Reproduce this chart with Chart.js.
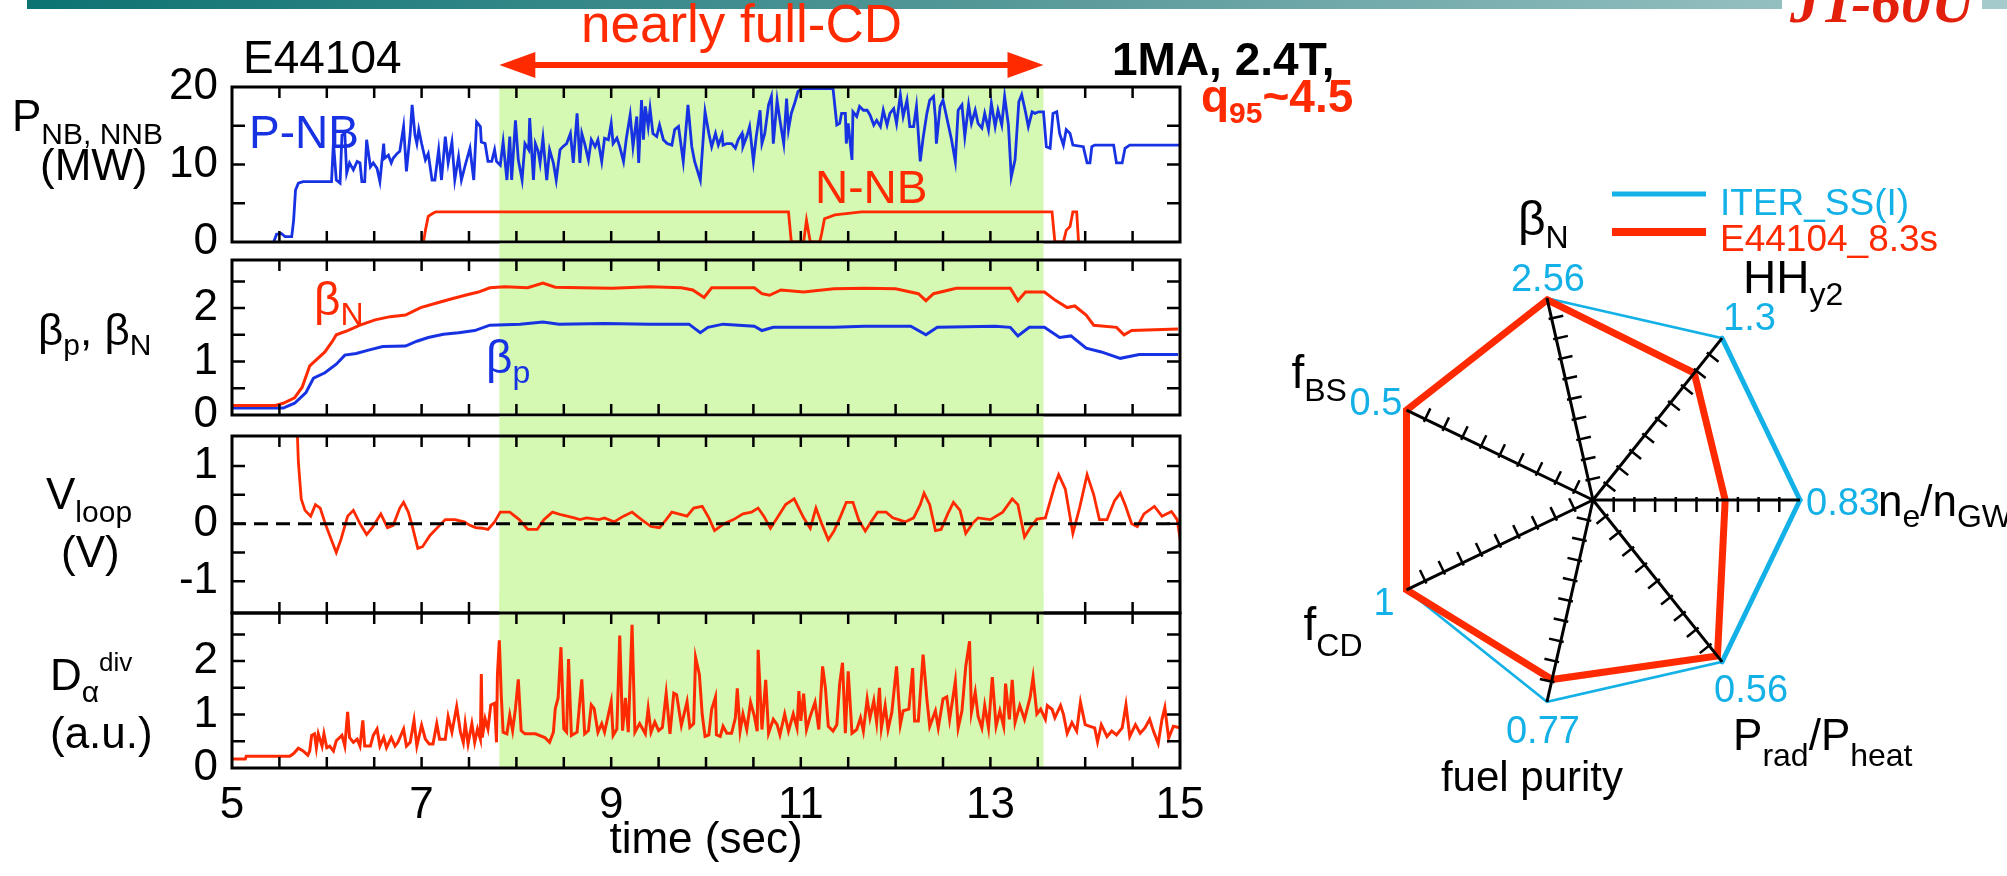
<!DOCTYPE html>
<html>
<head>
<meta charset="utf-8">
<script src="https://cdn.jsdelivr.net/npm/chart.js@4.4.1/dist/chart.umd.min.js"></script>
<style>
  body { margin: 0; width: 2007px; height: 876px; background: #fff; position: relative; overflow: hidden; }
  .topbar { position: absolute; left: 27px; top: 0; width: 1980px; height: 9px;
            background: linear-gradient(to right, #0c7372, #5f9d9e 55%, #a6cbcc); }
  .jt { position: absolute; left: 1782px; top: -28px; padding: 0 8px; background: #fff; color: #e2200c;
        font: italic bold 60px "Liberation Serif", "DejaVu Serif", serif; line-height: 60px; }
  canvas { position: absolute; }
</style>
</head>
<body>
<div class="topbar"></div>
<div class="jt">JT-60U</div>
<canvas id="c1" width="1380" height="275" style="left:0;top:0"></canvas>
<canvas id="c2" width="1380" height="200" style="left:0;top:242px"></canvas>
<canvas id="c3" width="1380" height="225" style="left:0;top:415px"></canvas>
<canvas id="c4" width="1380" height="284" style="left:0;top:592px"></canvas>
<canvas id="c5" width="747" height="776" style="left:1260px;top:100px"></canvas>
<script>
const FONT = '"Liberation Sans", Arial, sans-serif';
const BLUE = '#1632e2', RED = '#ff2a00', GREEN = '#d5f9b3', CYAN = '#14b1e7';

// --- shared time axis ---
const xLabels = [5, 7, 9, 11, 13, 15];
const xMarks = [5.5, 6, 6.5, 7, 7.5, 8, 8.5, 9, 9.5, 10, 10.5, 11, 11.5, 12, 12.5, 13, 13.5, 14, 14.5];
const cdStart = 7.82, cdEnd = 13.56;   // nearly full-CD window (green)

// --- panel 1: P-NB / N-NB (MW) ---
const p1Labels = [0, 10, 20];
const p1Marks = [5, 10, 15];
const pnbT = [5.44,5.47,5.52,5.56,5.63,5.65,5.67,5.70,5.75,6.05,6.07,6.10,6.14,6.16,6.19,6.21,6.24,6.28,6.32,6.35,
  6.37,6.40,6.42,6.46,6.49,6.53,6.56,6.60,6.61,6.65,6.68,6.70,6.74,6.77,6.81,6.84,6.88,6.90,6.93,6.95,
  6.97,7.00,7.04,7.07,7.11,7.14,7.18,7.21,7.25,7.28,7.32,7.35,7.39,7.42,7.46,7.51,7.55,7.58,7.62,7.63,
  7.67,7.70,7.74,7.77,7.79,7.83,7.86,7.90,7.93,7.95,7.99,8.02,8.06,8.09,8.13,8.14,8.18,8.20,8.23,8.25,
  8.28,8.32,8.35,8.39,8.42,8.46,8.49,8.53,8.57,8.60,8.64,8.67,8.69,8.72,8.76,8.79,8.83,8.86,8.90,8.93,
  8.97,9.00,9.02,9.06,9.09,9.13,9.16,9.20,9.23,9.27,9.29,9.32,9.34,9.36,9.39,9.41,9.44,9.48,9.51,9.55,
  9.59,9.64,9.67,9.71,9.76,9.81,9.85,9.88,9.94,
  9.99,10.03,10.06,10.10,10.13,10.17,10.18,10.22,10.27,10.31,10.34,10.38,10.39,10.43,10.46,10.50,10.53,10.57,10.59,10.62,
  10.66,10.69,10.71,10.75,10.78,10.82,10.85,10.87,10.90,10.94,10.97,11.01,11.34,11.38,11.41,11.43,11.47,11.48,11.50,11.54,
  11.55,11.59,11.62,11.66,11.70,11.73,11.77,11.80,11.84,11.87,11.91,11.94,11.98,12.01,12.05,12.08,12.12,12.15,12.19,12.22,
  12.26,12.29,12.33,12.36,12.40,12.42,12.43,12.47,12.50,12.56,12.59,12.63,12.66,12.70,12.73,12.77,12.80,12.84,12.87,12.91,
  12.94,12.98,13.01,13.05,13.08,13.12,13.15,13.19,13.22,13.26,13.30,13.33,13.37,13.40,13.44,13.47,13.51,13.56,13.59,13.63,
  13.66,13.70,13.73,13.77,13.80,13.84,13.87,13.98,14.02,14.05,14.07,14.10,14.30,14.33,14.39,14.42,14.47,15.00];
const pnbV = [0,1.0,1.1,0.7,0.7,2.8,6.7,7.6,7.8,7.8,12.9,8.0,7.6,13.8,14.0,8.9,10.2,9.3,10.4,10.2,
  7.8,7.8,13.2,9.7,10.2,9.5,7.8,12.7,10.8,11.2,10.2,10.8,11.4,11.7,14.9,9.1,14.0,17.7,13.8,12.7,
  14.5,12.7,10.6,11.4,8.0,8.0,11.9,8.0,13.6,10.2,12.9,8.0,11.0,8.0,9.9,12.1,8.0,15.5,14.9,12.9,
  12.7,10.4,10.4,11.9,10.4,9.9,12.9,8.0,13.6,8.0,15.7,10.6,8.0,12.7,11.9,16.0,8.0,12.7,11.7,10.2,
  13.4,8.0,11.9,10.2,8.0,11.9,12.3,12.7,14.0,10.2,16.6,10.2,14.0,12.7,10.6,13.2,12.3,13.2,10.4,13.4,
  13.2,15.3,12.7,13.4,12.3,10.4,13.4,16.4,12.3,16.2,10.2,18.3,13.2,17.5,14.9,17.2,14.0,13.6,15.1,13.2,
  12.7,12.5,14.5,14.9,10.4,17.7,12.3,10.4,8.0,
  16.8,14.0,12.3,14.0,12.5,13.8,12.5,12.7,12.7,12.1,13.2,14.0,12.3,13.6,14.9,10.4,13.6,17.0,12.7,14.0,
  17.7,18.8,12.7,18.3,15.7,12.7,18.5,14.5,16.6,18.1,19.4,19.8,19.8,15.1,15.3,16.6,16.6,12.7,15.3,10.6,
  16.8,16.2,17.5,17.0,17.0,16.4,15.1,15.7,14.9,17.0,15.1,16.6,17.2,15.3,19.0,16.2,18.3,14.9,14.9,17.5,
  10.4,13.4,16.6,18.3,18.8,16.0,12.7,17.5,18.3,14.9,13.2,10.4,17.0,17.7,13.6,17.7,15.3,17.0,15.3,14.7,
  16.6,14.5,17.9,14.9,17.0,15.1,18.8,15.1,8.4,10.6,18.1,19.0,16.8,14.9,16.8,16.6,16.8,16.8,12.3,12.1,
  16.6,16.8,14.0,12.5,14.5,14.0,12.5,12.3,10.2,10.2,12.3,12.5,12.5,10.2,10.2,12.1,12.5,12.5];
const nnbT = [7.02,7.04,7.07,7.12,7.15,10.87,10.90,11.03,11.06,11.10,11.20,11.22,11.25,11.36,11.64,13.65,13.68,13.77,13.80,13.84,13.87,13.91,13.93];
const nnbV = [0,1.5,3.3,3.7,3.9,3.9,0,0,2.8,0,0,1.1,3.0,3.5,3.9,3.9,0,0,1.5,2.0,3.9,3.9,0];

// --- panel 2: beta_p, beta_N ---
const p2Labels = [0, 1, 2];
const p2Marks = [0.5, 1, 1.5, 2, 2.5];
const betaNT = [5.01,5.46,5.54,5.66,5.74,5.82,5.90,5.98,6.06,6.10,6.22,6.35,6.51,6.67,6.83,6.99,7.15,7.31,7.48,7.60,
  7.72,7.88,8.12,8.28,8.41,8.69,9.01,9.41,9.74,9.86,9.98,10.06,10.51,10.59,10.67,10.79,11.03,11.35,11.67,12.00,
  12.24,12.32,12.40,12.64,13.05,13.21,13.29,13.37,13.57,13.69,13.81,13.89,14.01,14.09,14.33,14.41,14.49,14.98];
const betaNV = [0.18,0.18,0.22,0.32,0.52,0.92,1.05,1.18,1.38,1.50,1.58,1.68,1.78,1.84,1.87,2.01,2.09,2.17,2.25,2.30,
  2.38,2.40,2.38,2.47,2.39,2.38,2.37,2.40,2.38,2.34,2.20,2.38,2.38,2.27,2.24,2.34,2.30,2.36,2.37,2.36,
  2.27,2.14,2.27,2.37,2.37,2.37,2.14,2.30,2.30,2.14,2.01,2.04,1.87,1.68,1.64,1.50,1.58,1.61];
const betaPT = [5.01,5.54,5.66,5.78,5.86,5.98,6.10,6.19,6.31,6.43,6.59,6.83,6.95,7.07,7.23,7.39,7.56,7.72,8.04,8.28,
  8.45,8.93,9.41,9.82,9.94,10.02,10.18,10.51,10.59,10.71,11.03,11.35,11.67,12.16,12.32,12.44,13.05,13.21,13.29,13.41,
  13.57,13.73,13.85,14.01,14.17,14.37,14.57,14.98];
const betaPV = [0.13,0.13,0.22,0.42,0.69,0.79,0.95,1.12,1.15,1.21,1.28,1.29,1.38,1.45,1.51,1.54,1.58,1.68,1.70,1.74,
  1.70,1.71,1.70,1.70,1.54,1.64,1.70,1.66,1.58,1.64,1.64,1.64,1.66,1.66,1.50,1.64,1.66,1.64,1.48,1.64,
  1.64,1.45,1.48,1.25,1.18,1.06,1.13,1.13];

// --- panel 3: V_loop (V) ---
const p3Labels = [-1, 0, 1];
const p3Marks = [-1, -0.5, 0, 0.5, 1];
const vloopT = [5.68,5.70,5.73,5.77,5.83,5.88,5.93,5.99,6.06,6.10,6.15,6.22,6.28,6.35,6.42,6.48,6.57,6.64,6.70,6.77,
  6.81,6.86,6.90,6.96,7.01,7.09,7.19,7.25,7.35,7.45,7.51,7.57,7.64,7.70,7.77,7.83,7.93,8.03,8.12,8.22,
  8.29,8.38,8.48,8.61,8.67,8.74,8.87,8.93,9.03,9.13,9.22,9.32,9.42,9.51,9.58,9.64,9.71,9.80,9.87,9.96,
  10.03,10.09,10.19,10.29,10.39,10.48,10.55,10.61,10.68,10.74,10.84,10.93,11.03,11.10,11.16,11.22,11.29,11.35,11.42,11.48,
  11.55,11.61,11.68,11.74,11.81,11.90,11.97,12.03,12.10,12.19,12.26,12.30,12.36,12.42,12.48,12.55,12.61,12.68,12.74,12.81,
  12.87,13.00,13.13,13.23,13.29,13.36,13.42,13.49,13.58,13.68,13.72,13.79,13.87,13.94,14.02,14.09,14.15,14.23,14.31,14.37,
  14.42,14.49,14.55,14.62,14.73,14.81,14.91,14.97,15.02];
const vloopV = [2.0,1.07,0.43,0.23,0.13,0.33,0.27,-0.03,-0.33,-0.50,-0.27,0.13,0.23,0.0,-0.19,-0.07,0.17,-0.07,-0.03,0.27,
  0.37,0.20,-0.03,-0.43,-0.40,-0.20,-0.03,0.07,0.07,0.03,-0.03,-0.07,-0.08,-0.10,0.03,0.20,0.20,0.07,-0.10,-0.10,
  0.07,0.20,0.15,0.10,0.07,0.10,0.07,0.10,0.03,0.13,0.20,0.07,-0.05,-0.07,0.07,0.20,0.17,0.13,0.27,0.30,
  0.10,-0.12,0.0,0.07,0.17,0.20,0.27,0.13,-0.08,0.07,0.33,0.43,0.10,-0.08,0.27,0.0,-0.28,-0.13,0.13,0.37,
  0.37,0.07,-0.13,0.03,0.20,0.20,0.10,0.07,0.03,0.10,0.33,0.53,0.33,-0.12,-0.10,0.17,0.37,0.23,-0.17,0.0,
  0.10,0.07,0.20,0.43,0.33,-0.23,-0.07,0.08,0.10,0.67,0.85,0.60,-0.17,0.27,0.85,0.50,0.07,0.07,0.40,0.53,
  0.33,0.0,-0.05,0.17,0.30,0.13,0.21,0.07,-0.47];

// --- panel 4: D_alpha div (a.u.) ---
const p4Labels = [0, 1, 2];
const p4Marks = [0.5, 1, 1.5, 2, 2.5];
const daT = [5.00,5.14,5.15,5.61,5.65,5.70,5.75,5.80,5.82,5.84,5.87,5.89,5.91,5.95,5.97,6.00,6.03,6.07,6.10,6.16,
  6.19,6.22,6.24,6.28,6.32,6.35,6.38,6.40,6.46,6.49,6.53,6.56,6.60,6.63,6.68,6.72,6.75,6.81,6.84,6.88,
  6.92,6.95,7.00,7.04,7.08,7.12,7.16,7.19,7.25,7.28,7.32,7.37,7.41,7.44,7.46,7.49,7.53,7.56,7.59,7.62,
  7.63,7.64,7.67,7.70,7.73,7.77,7.79,7.80,7.82,7.84,7.86,7.90,7.93,7.96,7.99,8.02,8.05,8.09,8.20,8.30,
  8.35,8.39,8.41,8.44,8.47,8.50,8.53,8.55,8.58,8.64,8.69,8.72,8.76,8.79,8.82,8.86,8.90,8.93,9.00,9.02,
  9.06,9.09,9.12,9.15,9.18,9.22,9.25,9.30,9.36,9.39,9.42,9.46,9.50,9.54,9.58,9.62,9.66,9.69,9.74,9.80,
  9.83,9.87,9.89,9.93,
  9.96,9.99,10.03,10.06,10.10,10.11,10.15,10.18,10.22,10.27,10.31,10.33,10.36,10.39,10.43,10.47,10.51,10.54,10.55,10.59,
  10.63,10.66,10.71,10.75,10.78,10.83,10.87,10.92,10.96,10.98,11.00,11.03,11.06,11.10,11.15,11.19,11.23,11.26,11.29,11.34,
  11.38,11.41,11.44,11.47,11.50,11.54,11.59,11.63,11.66,11.70,11.73,11.77,11.80,11.83,11.85,11.89,11.92,11.96,12.01,12.05,
  12.08,12.14,12.18,12.20,12.24,12.29,12.33,12.36,12.42,12.45,12.50,12.54,12.57,12.63,12.66,12.70,12.74,12.78,12.80,12.84,
  12.87,12.91,12.94,12.98,13.02,13.06,13.10,13.14,13.16,13.20,13.23,13.26,13.31,13.36,13.42,13.45,13.49,13.53,13.58,13.60,
  13.65,13.68,13.74,13.77,13.81,13.86,13.91,13.95,14.00,14.05,14.10,14.13,14.17,14.23,14.28,14.33,14.39,14.43,14.47,14.53,
  14.58,14.63,14.68,14.72,14.77,14.81,14.84,14.88,14.93,15.00];
const daV = [0.17,0.17,0.22,0.22,0.27,0.37,0.32,0.24,0.32,0.61,0.64,0.38,0.64,0.41,0.64,0.38,0.41,0.32,0.51,0.61,
  0.41,1.05,0.57,0.48,0.54,0.41,0.89,0.41,0.41,0.61,0.73,0.41,0.57,0.38,0.57,0.41,0.48,0.73,0.41,0.48,
  0.89,0.41,0.80,0.54,0.45,0.45,0.83,0.54,0.54,0.96,0.67,1.15,0.67,0.48,0.83,0.45,0.83,0.48,0.73,0.54,
  1.76,0.57,0.92,0.73,1.18,1.21,0.48,1.75,2.39,1.37,0.67,0.64,0.99,0.70,1.11,1.66,0.70,0.64,0.64,0.57,
  0.48,0.67,1.11,1.31,2.26,0.73,0.67,2.04,0.61,0.67,1.66,0.64,0.70,1.18,1.11,0.67,0.83,0.67,1.24,0.61,
  0.73,2.48,0.70,1.31,0.67,2.68,0.67,0.83,0.64,1.11,0.67,0.86,0.70,0.76,1.40,0.64,1.40,1.37,0.80,1.24,
  0.76,0.83,2.07,1.75,
  1.00,0.59,0.62,1.10,1.33,0.62,0.59,0.78,0.65,0.65,0.94,1.49,0.69,1.01,0.72,1.23,0.97,0.69,2.21,0.72,
  1.65,0.65,0.91,0.81,0.62,1.01,0.69,1.01,0.75,1.44,0.88,1.39,0.72,0.97,1.23,0.72,1.90,1.49,0.78,0.69,
  0.81,1.58,1.97,0.65,1.81,0.65,0.72,0.94,0.69,1.29,0.94,1.26,0.85,1.50,0.75,1.17,0.72,1.04,1.90,0.81,
  1.07,1.10,1.87,0.88,0.88,2.12,1.29,0.78,1.07,0.75,1.29,1.33,0.91,1.62,0.75,1.07,1.90,2.37,1.04,1.42,
  0.97,0.75,1.17,0.75,1.70,0.78,1.07,0.78,1.58,0.91,1.65,0.85,1.17,0.91,1.33,1.70,1.01,1.10,0.91,1.17,
  1.10,0.94,1.17,1.01,0.65,0.85,0.69,1.23,0.81,0.78,0.75,0.49,0.81,0.59,0.69,0.62,0.75,1.18,0.59,0.81,
  0.65,0.75,0.91,0.69,0.46,0.91,1.13,0.56,0.78,0.75];

// --- radar: ITER_SS(I) vs E44104 at 8.3 s ---
const radarAxes = ['βN', 'HHy2', 'ne/nGW', 'Prad/Pheat', 'fuel purity', 'fCD', 'fBS'];
const iterVals = [2.56, 1.3, 0.83, 0.56, 0.77, 1, 0.5];
const shotVals = [2.54, 1.02, 0.53, 0.54, 0.685, 1, 0.5];
const spokeMarks = [0.1, 0.2, 0.3, 0.4, 0.5, 0.6, 0.7, 0.8, 0.9];

const pts = (t, v) => t.map((x, i) => ({ x, y: v[i] }));

// text with sub/superscripts: parts = [text, size, dy, bold]
function rich(ctx, x, y, parts, color) {
  ctx.save();
  ctx.fillStyle = color;
  ctx.textAlign = 'left';
  ctx.textBaseline = 'alphabetic';
  parts.forEach(p => {
    ctx.font = (p[3] ? 'bold ' : '') + p[1] + 'px ' + FONT;
    ctx.fillText(p[0], x, y + (p[2] || 0));
    x += ctx.measureText(p[0]).width;
  });
  ctx.restore();
}

// texts for each panel, in page coordinates
const panelText = {
  c1(ctx, chart) {
    rich(ctx, 243, 73, [['E44104', 46]], '#000');
    rich(ctx, 581, 42, [['nearly full-CD', 53]], RED);
    rich(ctx, 1112, 75, [['1MA, 2.4T,', 46, 0, true]], '#000');
    rich(ctx, 1201, 112, [['q', 46, 0, true], ['95', 30, 11, true], ['~4.5', 46, 0, true]], RED);
    rich(ctx, 12, 131, [['P', 44], ['NB, NNB', 30, 13]], '#000');
    rich(ctx, 40, 180, [['(MW)', 44]], '#000');
    rich(ctx, 249, 148, [['P-NB', 46]], BLUE);
    rich(ctx, 815, 203, [['N-NB', 46]], RED);
    // double arrow over the CD window
    const x = chart.scales.x, a = x.getPixelForValue(cdStart), b = x.getPixelForValue(cdEnd), y = 65;
    ctx.save();
    ctx.strokeStyle = RED; ctx.fillStyle = RED; ctx.lineWidth = 6;
    ctx.beginPath(); ctx.moveTo(a + 30, y); ctx.lineTo(b - 30, y); ctx.stroke();
    [[a, 1], [b, -1]].forEach(([tip, d]) => {
      ctx.beginPath(); ctx.moveTo(tip, y); ctx.lineTo(tip + d * 36, y - 13); ctx.lineTo(tip + d * 36, y + 13);
      ctx.closePath(); ctx.fill();
    });
    ctx.restore();
  },
  c2(ctx) {
    rich(ctx, 38, 345, [['β', 44], ['p', 30, 10], [', β', 44], ['N', 30, 10]], '#000');
    rich(ctx, 314, 315, [['β', 46], ['N', 32, 10]], RED);
    rich(ctx, 486, 373, [['β', 46], ['p', 32, 10]], BLUE);
  },
  c3(ctx) {
    rich(ctx, 46, 509, [['V', 44], ['loop', 30, 13]], '#000');
    rich(ctx, 61, 567, [['(V)', 44]], '#000');
  },
  c4(ctx, chart) {
    rich(ctx, 50, 690, [['D', 44], ['α', 30, 12], ['div', 26, -19]], '#000');
    rich(ctx, 50, 748, [['(a.u.)', 44]], '#000');
    const a = chart.chartArea;
    ctx.save();
    ctx.font = '44px ' + FONT; ctx.fillStyle = '#000'; ctx.textAlign = 'center';
    ctx.fillText('time (sec)', (a.left + a.right) / 2, 853);
    ctx.restore();
  }
};

const panelDeco = {
  id: 'panelDeco',
  beforeDatasetsDraw(chart, args, o) {
    // green band; each lower panel also fills the gap above it
    const { ctx, chartArea: a, scales: { x } } = chart;
    const x0 = x.getPixelForValue(cdStart), x1 = x.getPixelForValue(cdEnd);
    const top = a.top - o.gapAbove;
    ctx.save();
    ctx.fillStyle = GREEN;
    ctx.fillRect(x0, top, x1 - x0, a.bottom - top);
    ctx.restore();
  },
  afterDatasetsDraw(chart, args, o) {
    const { ctx, chartArea: a, scales: { x, y } } = chart;
    ctx.save();
    ctx.strokeStyle = '#000';
    ctx.lineWidth = 2.5;
    ctx.beginPath();
    xMarks.forEach(v => {
      const px = x.getPixelForValue(v);
      ctx.moveTo(px, a.top); ctx.lineTo(px, a.top + 11);
      ctx.moveTo(px, a.bottom); ctx.lineTo(px, a.bottom - 11);
    });
    o.marks.forEach(v => {
      const py = y.getPixelForValue(v);
      ctx.moveTo(a.left, py); ctx.lineTo(a.left + 13, py);
      ctx.moveTo(a.right, py); ctx.lineTo(a.right - 13, py);
    });
    ctx.stroke();
    ctx.lineWidth = 3;
    ctx.strokeRect(a.left, a.top, a.right - a.left, a.bottom - a.top);
    ctx.restore();
  },
  afterDraw(chart) {
    const ctx = chart.ctx;
    ctx.save();
    ctx.translate(-chart.canvas.offsetLeft, -chart.canvas.offsetTop);
    panelText[chart.canvas.id](ctx, chart);
    ctx.restore();
  }
};

function makePanel(id, datasets, yMin, yMax, yLabels, marks, pad, gapAbove, last) {
  return new Chart(document.getElementById(id), {
    type: 'line',
    data: { datasets },
    options: {
      responsive: false, animation: false, events: [],
      layout: { padding: pad },
      elements: { point: { radius: 0 }, line: { borderWidth: 2.8, tension: 0, fill: false } },
      plugins: { legend: { display: false }, tooltip: { enabled: false },
                 panelDeco: { marks, gapAbove } },
      scales: {
        x: {
          type: 'linear', min: 5, max: 15, display: last,
          grid: { display: false }, border: { display: false },
          afterBuildTicks: s => { s.ticks = xLabels.map(v => ({ value: v })); },
          afterFit: s => { s.height = last ? 60 : 0; s.paddingLeft = 0; s.paddingRight = 0; },
          ticks: { color: '#000', font: { family: FONT, size: 44, lineHeight: 1 }, padding: 8, autoSkip: false, maxRotation: 0 }
        },
        y: {
          min: yMin, max: yMax,
          grid: { display: false }, border: { display: false },
          afterBuildTicks: s => { s.ticks = yLabels.map(v => ({ value: v })); },
          afterFit: s => { s.width = 232; s.paddingTop = 0; s.paddingBottom = 0; },
          ticks: { color: '#000', font: { family: FONT, size: 44 }, padding: 6, autoSkip: false }
        }
      }
    },
    plugins: [panelDeco]
  });
}

// canvases overlap a little so bottom tick labels are not cut off
makePanel('c1', [
  { data: pts(pnbT, pnbV), borderColor: BLUE },
  { data: pts(nnbT, nnbV), borderColor: RED }
], 0, 20, p1Labels, p1Marks, { top: 87, bottom: 33, left: 0, right: 200 }, 0, false);

makePanel('c2', [
  { data: pts(betaNT, betaNV), borderColor: RED, borderWidth: 3 },
  { data: pts(betaPT, betaPV), borderColor: BLUE, borderWidth: 3 }
], 0, 2.9, p2Labels, p2Marks, { top: 18, bottom: 27, left: 0, right: 200 }, 16.5, false);

makePanel('c3', [
  { data: [{ x: 5, y: 0 }, { x: 15, y: 0 }], borderColor: '#000', borderWidth: 3, borderDash: [14, 8] },
  { data: pts(vloopT, vloopV), borderColor: RED }
], -1.55, 1.52, p3Labels, p3Marks, { top: 21, bottom: 27, left: 0, right: 200 }, 19.5, false);

makePanel('c4', [
  { data: pts(daT, daV), borderColor: RED, borderWidth: 3 }
], 0, 2.9, p4Labels, p4Marks, { top: 21, bottom: 48, left: 0, right: 200 }, 19.5, true);

// --- radar ---
const radarText = [
  { i: 0, dx: -29, dy: -63, parts: [['β', 48], ['N', 32, 13]], val: '2.56', vx: -36, vy: -7 },
  { i: 1, dx: 21, dy: -45, parts: [['HH', 46], ['y2', 32, 12]], val: '1.3', vx: 1, vy: -8 },
  { i: 2, dx: 78, dy: 16, parts: [['n', 44], ['e', 32, 11], ['/n', 44], ['GW', 32, 11]], val: '0.83', vx: 6, vy: 15 },
  { i: 3, dx: 11, dy: 88, parts: [['P', 44], ['rad', 32, 16], ['/P', 44], ['heat', 32, 16]], val: '0.56', vx: -8, vy: 40 },
  { i: 4, dx: -106, dy: 89, parts: [['fuel purity', 42]], val: '0.77', vx: -41, vy: 41 },
  { i: 5, dx: -103, dy: 50, parts: [['f', 46], ['CD', 32, 16]], val: '1', vx: -33, vy: 25 },
  { i: 6, dx: -115, dy: -22, parts: [['f', 46], ['BS', 32, 13]], val: '0.5', vx: -57, vy: 5 }
];
const cyanThick = [1, 2];   // edges HH->ne->Prad drawn heavier

const radarDeco = {
  id: 'radarDeco',
  beforeDatasetsDraw(chart) {
    const ctx = chart.ctx, p = chart.getDatasetMeta(1).data;
    ctx.save();
    ctx.strokeStyle = CYAN; ctx.lineWidth = 5; ctx.lineCap = 'round';
    cyanThick.forEach(k => {
      const q = p[(k + 1) % p.length];
      ctx.beginPath(); ctx.moveTo(p[k].x, p[k].y); ctx.lineTo(q.x, q.y); ctx.stroke();
    });
    ctx.restore();
  },
  afterDraw(chart) {
    const ctx = chart.ctx, r = chart.scales.r;
    const cx = r.xCenter, cy = r.yCenter, R = r.drawingArea;
    ctx.save();
    // tick marks along each spoke (clockwise side)
    ctx.strokeStyle = '#000'; ctx.lineWidth = 2.5;
    ctx.beginPath();
    radarAxes.forEach((_, i) => {
      const end = r.getPointPosition(i, R);
      const ux = (end.x - cx) / R, uy = (end.y - cy) / R, nx = -uy, ny = ux;
      spokeMarks.forEach(v => {
        const p = r.getPointPosition(i, r.getDistanceFromCenterForValue(v));
        ctx.moveTo(p.x - nx * 3, p.y - ny * 3);
        ctx.lineTo(p.x + nx * 12, p.y + ny * 12);
      });
    });
    ctx.stroke();
    // axis names and ITER reference values
    radarText.forEach(t => {
      const v = r.getPointPosition(t.i, R);
      rich(ctx, v.x + t.dx, v.y + t.dy, t.parts, '#000');
      rich(ctx, v.x + t.vx, v.y + t.vy, [[t.val, 38]], CYAN);
    });
    // legend
    const lx = 1612 - 1260, ly = 194 - 100;
    ctx.lineCap = 'butt';
    ctx.strokeStyle = CYAN; ctx.lineWidth = 5;
    ctx.beginPath(); ctx.moveTo(lx, ly); ctx.lineTo(lx + 94, ly); ctx.stroke();
    ctx.strokeStyle = RED; ctx.lineWidth = 8;
    ctx.beginPath(); ctx.moveTo(lx, ly + 38); ctx.lineTo(lx + 94, ly + 38); ctx.stroke();
    rich(ctx, lx + 108, ly + 21, [[chart.data.datasets[1].label, 37]], CYAN);
    rich(ctx, lx + 108, ly + 57, [[chart.data.datasets[0].label, 37]], RED);
    ctx.restore();
  }
};

new Chart(document.getElementById('c5'), {
  type: 'radar',
  data: {
    labels: radarAxes,
    datasets: [
      { label: 'E44104_8.3s', data: shotVals.map((v, i) => v / iterVals[i]),
        borderColor: RED, borderWidth: 7, fill: false, pointRadius: 0, borderJoinStyle: 'miter' },
      { label: 'ITER_SS(I)', data: iterVals.map(v => v / v),
        borderColor: CYAN, borderWidth: 2.5, fill: false, pointRadius: 0 }
    ]
  },
  options: {
    responsive: false, animation: false, events: [],
    layout: { padding: { left: 126, right: 207, top: 193, bottom: 169 } },
    plugins: { legend: { display: false }, tooltip: { enabled: false } },
    scales: {
      r: {
        min: 0, max: 1, startAngle: 90 - 2 * 360 / 7, z: 1,
        ticks: { display: false },
        grid: { display: false, z: 1 },
        angleLines: { display: true, color: '#000', lineWidth: 3 },
        pointLabels: { display: false }
      }
    }
  },
  plugins: [radarDeco]
});
</script>
</body>
</html>
